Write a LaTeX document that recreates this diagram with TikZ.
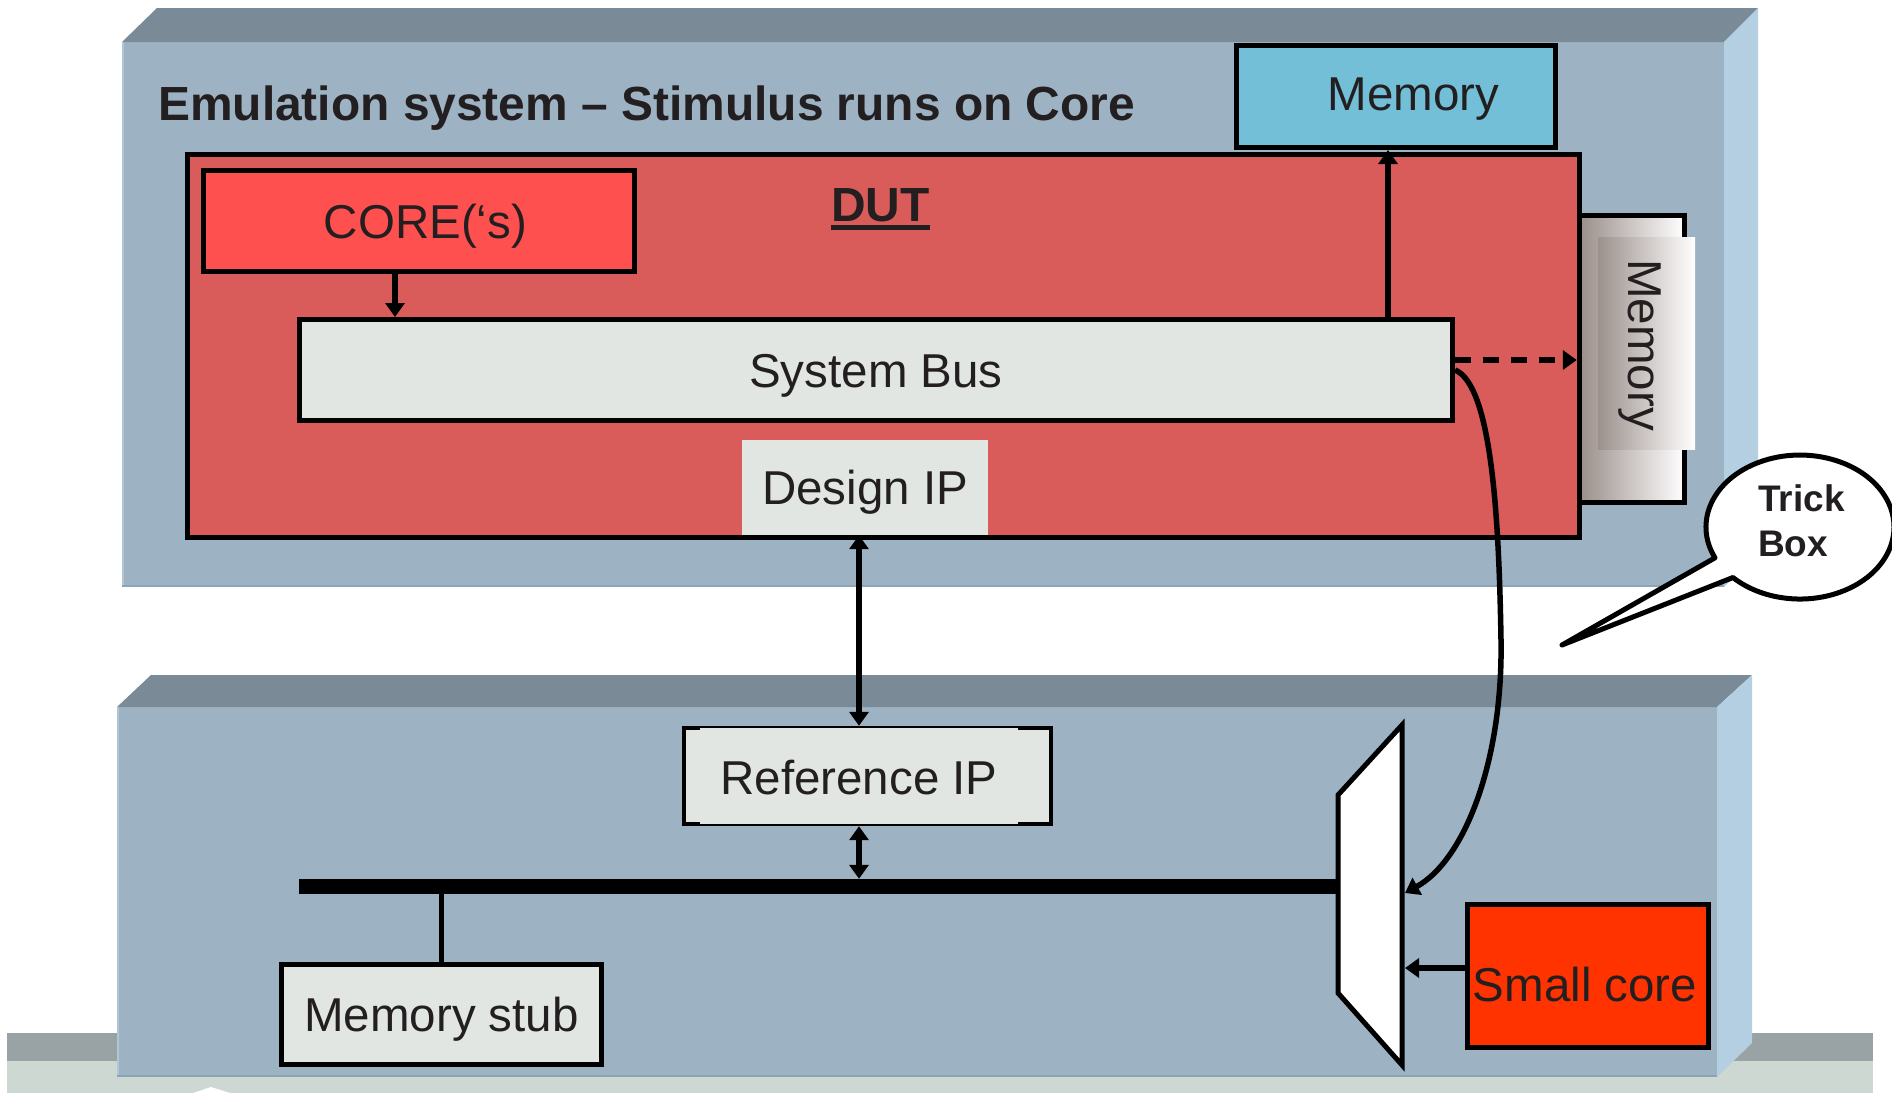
\documentclass[tikz,border=0pt]{standalone}
\usepackage{fontspec}
\setmainfont{Liberation Sans}
\usetikzlibrary{arrows.meta,calc}

\definecolor{topface}{HTML}{7A8B97}
\definecolor{frontface}{HTML}{9DB3C4}
\definecolor{sideface}{HTML}{B3CFE1}
\definecolor{edgelight}{HTML}{B0C6D6}
\definecolor{edgedark}{HTML}{8CA4B7}
\definecolor{dutred}{HTML}{D95C5B}
\definecolor{corered}{HTML}{FF5050}
\definecolor{paleblock}{HTML}{E1E6E3}
\definecolor{memblue}{HTML}{73BFD8}
\definecolor{smallred}{HTML}{FF3300}
\definecolor{floordark}{HTML}{99A2A4}
\definecolor{floorlight}{HTML}{CED8D3}
\definecolor{ink}{HTML}{231F20}
\definecolor{memgrey}{HTML}{9C918D}
\definecolor{memmid}{HTML}{D3CEC9}

\newcommand{\bodyfont}{\fontsize{47.5bp}{57bp}\selectfont}
\newcommand{\headfont}{\fontsize{47.9bp}{57bp}\selectfont\bfseries}

\begin{document}
\begin{tikzpicture}[x=1bp,y=-1bp,
  block/.style={draw=black, line width=5bp, rectangle, inner sep=0pt,
    text=ink, font=\bodyfont, text height=34bp, text depth=0bp},
  labeltext/.style={rectangle, inner sep=0pt, text=ink, font=\bodyfont,
    text height=34bp, text depth=0bp},
  conn/.style={draw=black, line width=5.5bp},
  toarrow/.style={-{Triangle[width=19bp,length=14bp]}},
  bothway/.style={{Triangle[width=19bp,length=14bp]}-{Triangle[width=19bp,length=14bp]}},
  memshade/.style={rectangle, inner sep=0pt, left color=memgrey, middle color=memmid, right color=white},
]
\useasboundingbox (0,0) rectangle (1892,1093);

% floor strip
\fill[floordark] (7,1033) rectangle (1873,1061);
\fill[floorlight] (7,1061) rectangle (1873,1093);

% lower housing (reference platform)
\fill[frontface] (117,707) rectangle (1717,1077);
\fill[topface] (117,707) -- (151,675) -- (1752,675) -- (1717,707) -- cycle;
\fill[sideface] (1717,707) -- (1752,675) -- (1752,1043) -- (1717,1077) -- cycle;
\draw[edgelight, line width=2bp] (118,707) -- (118,1077);
\draw[edgedark, line width=2.5bp] (117,1076) -- (1717,1076);
\fill[white] (193,1093) -- (211,1087) -- (230,1093) -- cycle;

% upper housing (emulation system)
\fill[frontface] (122,42) rectangle (1724,587);
\fill[topface] (122,42) -- (157,8) -- (1758,8) -- (1724,42) -- cycle;
\fill[sideface] (1724,42) -- (1758,8) -- (1758,553) -- (1724,587) -- cycle;
\draw[edgelight, line width=2bp] (123,42) -- (123,587);
\draw[edgedark, line width=2.5bp] (122,586) -- (1724,586);

\node[anchor=base west, inner sep=0pt, text=ink, font=\headfont] (title)
  at (158,120) {Emulation system – Stimulus runs on Core};

% external memory above the DUT
\node[block, fill=memblue, minimum width=319bp, minimum height=102bp] (memtop) at (1396,96.5) {};
\node[labeltext] (memtoptxt) at (1413.5,93.5) {Memory};

% design under test
\node[block, fill=dutred, minimum width=1392bp, minimum height=383bp] (dut) at (883.5,346) {};
\node[anchor=base, inner sep=0pt, text=ink, font=\headfont] (dutlbl) at (880.5,221) {DUT};
\draw[ink, line width=5bp] ([yshift=-6.5bp]dutlbl.base west) -- ([yshift=-6.5bp]dutlbl.base east);

% memory attached at the side of the DUT
\node[memshade, minimum width=102.5bp, minimum height=287bp] (smem) at (1633.25,359) {};
\draw[line width=5bp] (smem.north west) -- (smem.north east) -- (smem.south east) -- (smem.south west);
\node[memshade, minimum width=97bp, minimum height=212bp] (smemin) at (1646.5,343) {};
\node[labeltext, rotate=-90] (smemtxt) at (1645.5,345) {Memory};

% cores and system bus
\node[block, fill=corered, minimum width=431bp, minimum height=101bp] (core) at (419,221) {};
\node[labeltext] (coretxt) at (425.5,221.5) {CORE(‘s)};
\node[block, fill=paleblock, minimum width=1153bp, minimum height=101bp] (sysbus) at (876,370) {System Bus};
\node[labeltext, fill=paleblock, minimum width=246bp, minimum height=95bp] (dip) at (865,487.5) {Design IP};

% reference IP block
\node[rectangle, fill=black, inner sep=0pt, minimum width=371bp, minimum height=100bp] (refip) at (867.5,776) {};
\fill[paleblock] (686,730) rectangle (1049,822);
\fill[paleblock] (700,728) rectangle (1018,824);
\node[labeltext] (reftxt) at (859,777) {Reference IP};

% lower bus and memory stub
\node[rectangle, fill=black, inner sep=0pt, minimum width=1039bp, minimum height=15bp] (lbus) at (818.5,886.5) {};
\node[block, fill=paleblock, minimum width=320bp, minimum height=100bp] (stub) at (441.5,1014.5) {Memory stub};
\draw[line width=5bp] (lbus.south -| stub.north) -- (stub.north);

% multiplexer
\filldraw[fill=white, draw=black, line width=5bp] (1338,795) -- (1402,725) -- (1402,1065) -- (1338,993) -- cycle;
\coordinate (muxtop) at (1405,893);
\coordinate (muxlow) at (1405,968);

% small core
\node[block, fill=smallred, minimum width=241bp, minimum height=143bp] (small) at (1588,976) {};
\node[labeltext] (smalltxt) at (1585,984.5) {Small core};

% connectors
\coordinate (ca) at (395,0);
\coordinate (ma) at (1388,0);
\coordinate (lk) at (859,0);
\coordinate (dl) at (0,360);
\draw[conn, toarrow] (core.south -| ca) -- (sysbus.north -| ca);
\draw[conn, toarrow] (sysbus.north -| ma) -- (memtop.south -| ma);
\draw[conn, toarrow, dash pattern=on 16bp off 12bp, shorten >=5bp] (sysbus.east |- dl) -- (smem.west |- dl);
\draw[conn, bothway] (dip.south -| lk) -- (refip.north -| lk);
\draw[conn, bothway] (refip.south -| lk) -- (lbus.north -| lk);
\draw[conn, toarrow] (small.west |- muxlow) -- (muxlow);
\draw[conn, toarrow] (sysbus.east) .. controls (1492,385) and (1499,520) .. (1501,640)
  .. controls (1503,760) and (1465,860) .. (muxtop);

% call-out bubble
\filldraw[fill=white, draw=black, line width=5bp, line join=round]
  (1715.0,557.8) arc[start angle=154.7, end angle=495.5, x radius=94, y radius=72]
  -- (1562,645) -- cycle;
\node[anchor=north west, inner sep=0pt, align=left, text=ink,
  font=\fontsize{37bp}{45bp}\selectfont\bfseries] (trick) at (1758,484) {Trick\\Box};
\end{tikzpicture}
\end{document}
